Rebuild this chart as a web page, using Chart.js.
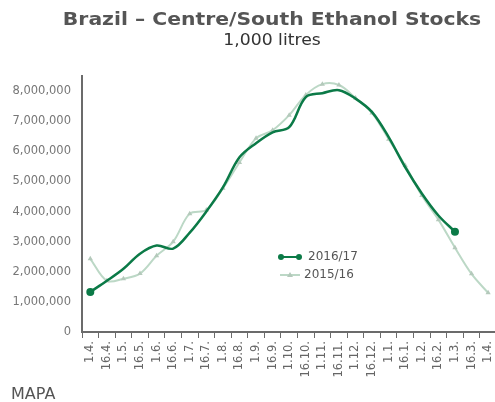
<!DOCTYPE html>
<html>
<head>
<meta charset="utf-8">
<title>Brazil – Centre/South Ethanol Stocks</title>
<script src="https://cdn.jsdelivr.net/npm/chart.js@4.4.1/dist/chart.umd.min.js"></script>
<style>
    html, body {margin: 0; padding: 0; background: #fff}
    #wrap {position: relative; width: 495px; height: 402px; overflow: hidden; font-family: "DejaVu Sans", Verdana, sans-serif}
    #chart {position: absolute; left: 0; top: 0}
    .title {position: absolute; left: 0; width: 544px; text-align: center; white-space: nowrap; transform-origin: 272px 50%}
    #title {top: 8px; font-size: 18px; font-weight: bold; color: #555; transform: scaleX(1.13)}
    #subtitle {top: 31px; font-size: 15px; color: #333; transform: scaleX(1.15)}
    #legend {position: absolute; left: 277px; top: 247px; font-size: 12px; color: #555}
    #legend div {height: 18px; line-height: 18px; white-space: nowrap}
    #legend svg {vertical-align: middle; margin-right: 5px}
    #legend .prev svg {margin-right: 1px}
    #credit {position: absolute; left: 11px; top: 384px; font-size: 16px; color: #555}
</style>
</head>
<body>
<div id="wrap">
    <canvas id="chart" width="505" height="402"></canvas>
    <div class="title" id="title">Brazil – Centre/South Ethanol Stocks</div>
    <div class="title" id="subtitle">1,000 litres</div>
    <div id="legend">
        <div><svg width="26" height="10"><line x1="3" y1="5" x2="23" y2="5" stroke="#0b7a47" stroke-width="2"/><circle cx="4" cy="5" r="3" fill="#0b7a47"/><circle cx="22" cy="5" r="3" fill="#0b7a47"/></svg>2016/17</div>
        <div class="prev"><svg width="26" height="10"><line x1="3" y1="5" x2="23" y2="5" stroke="#bcd8c6" stroke-width="2"/><polygon points="13,2 16,7 10,7" fill="#b4c9bb"/></svg>2015/16</div>
    </div>
    <div id="credit">MAPA</div>
</div>
<script>
const periods = ["1.4.", "16.4.", "1.5.", "16.5.", "1.6.", "16.6.", "1.7.", "16.7.", "1.8.", "16.8.",
    "1.9.", "16.9.", "1.10.", "16.10.", "1.11.", "16.11.", "1.12.", "16.12.", "1.1.", "16.1.",
    "1.2.", "16.2.", "1.3.", "16.3.", "1.4."]

// stocks, 1,000 litres
const stocks1617 = [1330000, 1700000, 2100000, 2600000, 2870000, 2770000, 3300000, 4000000, 4800000, 5800000,
    6270000, 6630000, 6800000, 7800000, 7930000, 8030000, 7750000, 7300000, 6470000, 5470000,
    4600000, 3870000, 3330000]
const stocks1516 = [2430000, 1700000, 1770000, 1940000, 2530000, 3000000, 3930000, 4050000, 4770000, 5630000,
    6430000, 6700000, 7200000, 7870000, 8230000, 8200000, 7770000, 7270000, 6400000, 5530000,
    4530000, 3730000, 2800000, 1930000, 1300000]

const yTicks = [0, 1000000, 2000000, 3000000, 4000000, 5000000, 6000000, 7000000, 8000000]

const dark = "#0b7a47"
const light = "#bcd8c6"
const lightMarker = "#b4c9bb"
const axisColor = "#6b6b6b"
const tickFont = {family: "'DejaVu Sans', Verdana, sans-serif", size: 11.5}

const lastIndex = stocks1617.length - 1

const ctx = document.getElementById("chart").getContext("2d")

new Chart(ctx, {
    type: "line",
    data: {
        labels: periods,
        datasets: [
            {
                label: "2015/16",
                data: stocks1516,
                borderColor: light,
                backgroundColor: lightMarker,
                borderWidth: 2,
                pointStyle: "triangle",
                pointRadius: 3,
                pointBorderWidth: 0,
                pointBackgroundColor: lightMarker,
                tension: 0.35,
                order: 2
            },
            {
                label: "2016/17",
                data: stocks1617,
                borderColor: dark,
                backgroundColor: dark,
                borderWidth: 2.5,
                pointRadius: c => (c.dataIndex === 0 || c.dataIndex === lastIndex) ? 4 : 0,
                pointBorderWidth: 0,
                pointBackgroundColor: dark,
                tension: 0.35,
                order: 1
            }
        ]
    },
    options: {
        responsive: false,
        animation: false,
        layout: {padding: {top: 76, right: 0, bottom: 0, left: 0}},
        plugins: {
            legend: {display: false},
            title: {display: false},
            tooltip: {enabled: false}
        },
        scales: {
            x: {
                offset: true,
                afterFit: scale => { scale.height = 70 },
                border: {display: true, color: axisColor, width: 2},
                grid: {
                    offset: true,
                    drawOnChartArea: false,
                    drawTicks: true,
                    tickLength: 6,
                    color: axisColor
                },
                ticks: {
                    autoSkip: false,
                    minRotation: 90,
                    maxRotation: 90,
                    padding: 3,
                    color: "#666",
                    font: tickFont
                }
            },
            y: {
                min: 0,
                max: 8500000,
                afterFit: scale => { scale.width = 82 },
                afterBuildTicks: scale => { scale.ticks = yTicks.map(v => ({value: v})) },
                border: {display: true, color: axisColor, width: 2},
                grid: {display: false, drawTicks: false},
                ticks: {
                    padding: 11,
                    color: "#777",
                    font: tickFont,
                    callback: v => v.toLocaleString("en-US")
                }
            }
        }
    }
})
</script>
</body>
</html>
